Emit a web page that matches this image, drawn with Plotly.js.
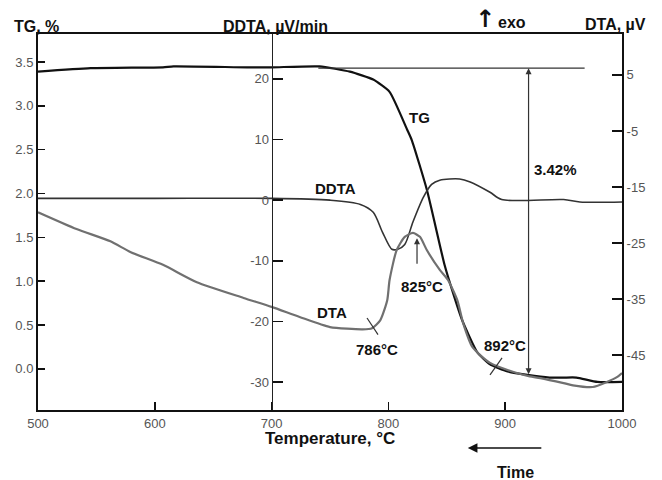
<!DOCTYPE html>
<html>
<head>
<meta charset="utf-8">
<script src="https://cdn.plot.ly/plotly-3.0.1.min.js"></script>
<style>html,body{margin:0;padding:0;background:#fff;}#chart{width:662px;height:480px;}</style>
</head>
<body>
<div id="chart"></div>
<script>
// Temperature (°C) and TG (%)
const tgTemp = [500,545,607,616,679,700,741,767,787,801,816,820,833,848,855,863,876,887,902,919,938,950,961,979,1000];
const tgVal  = [3.39,3.43,3.44,3.45,3.44,3.44,3.45,3.39,3.30,3.16,2.73,2.61,2.04,1.19,0.88,0.56,0.19,0.05,-0.03,-0.07,-0.10,-0.10,-0.10,-0.15,-0.15];

// Temperature (°C) and DDTA (µV/min)
const ddtaTemp = [500,600,700,750,776,787,795,803,808,814,821,830,837,844,861,870,887,897,950,964,1000];
const ddtaVal  = [0.3,0.3,0.3,0,-0.7,-2.0,-5.3,-8.1,-8.1,-7.3,-3.6,0.5,2.6,3.3,3.5,3.0,1.3,0.1,0.1,-0.3,-0.3];

// Temperature (°C) and DTA (µV)
const dtaTemp = [500,533,562,579,607,636,676,700,724,750,778,786,793,799,801,807,814,821,827,833,844,851,859,864,872,887,910,921,930,950,958,975,987,996,1000];
const dtaVal  = [-19.5,-22.5,-24.7,-26.6,-28.9,-32.0,-34.8,-36.4,-38.2,-40.0,-40.4,-40.2,-38.8,-35.2,-31.6,-26.3,-23.9,-23.2,-23.9,-26.3,-29.8,-31.6,-35.2,-39.3,-43.6,-46.4,-48.2,-48.8,-49.1,-50.0,-50.4,-50.7,-49.8,-48.9,-48.2];

// Tick labels
const xTicks = [500,600,700,800,900,1000];
const tgTicks = [0,0.5,1.0,1.5,2.0,2.5,3.0,3.5];
const tgTickText = ['0.0','0.5','1.0','1.5','2.0','2.5','3.0','3.5'];
const ddtaTicks = [-30,-20,-10,0,10,20];
const ddtaTickText = ['-30','-20','-10','0','10','20'];
const dtaTicks = [-45,-35,-25,-15,-5,5];
const dtaTickText = ['-45','-35','-25','-15','-5','5'];

// Annotated values
const massLoss = '3.42%';
const tgTop = 3.43, tgBottom = -0.08, lossTemp = 920;

const FONT = 'Liberation Sans, Arial, sans-serif';
const tickFont = {family: FONT, size: 13, color: '#555'};

const traces = [
  {x: dtaTemp, y: dtaVal, yaxis: 'y3', mode: 'lines', line: {color: '#707070', width: 2.2, shape: 'spline', smoothing: 0.6}, hoverinfo: 'skip'},
  {x: ddtaTemp, y: ddtaVal, yaxis: 'y2', mode: 'lines', line: {color: '#333', width: 1.6, shape: 'spline', smoothing: 0.8}, hoverinfo: 'skip'},
  {x: tgTemp, y: tgVal, yaxis: 'y', mode: 'lines', line: {color: '#111', width: 2.2, shape: 'spline', smoothing: 0.5}, hoverinfo: 'skip'}
];

const bold = (s, size) => ({text: '<b>' + s + '</b>', font: {family: FONT, size: size || 15, color: '#111'}});

function lab(text, x, y, size) {
  return Object.assign(bold(text, size), {x: x, y: y, xref: 'x', yref: 'y', showarrow: false});
}
function plab(text, x, y, xanchor, size) {
  return Object.assign(bold(text, size), {x: x, y: y, xref: 'paper', yref: 'paper', showarrow: false, xanchor: xanchor || 'center', yanchor: 'middle'});
}

const annotations = [
  lab('TG', 827, 2.87),
  lab('DDTA', 755, 2.06),
  lab(massLoss, 943, 2.27),
  lab('DTA', 752, 0.64),
  lab('786°C', 790, 0.22),
  lab('825°C', 829, 0.94),
  lab('892°C', 900, 0.27),
  // 3.42% double arrow
  {x: lossTemp, y: tgTop, ax: lossTemp, ay: tgBottom, xref: 'x', yref: 'y', axref: 'x', ayref: 'y', text: '', showarrow: true, arrowside: 'end+start', arrowhead: 2, arrowsize: 1, arrowwidth: 1.2, arrowcolor: '#333', standoff: 0, startstandoff: 0},
  // 825 arrow
  {x: 824.5, y: 1.49, ax: 0, ay: 27, xref: 'x', yref: 'y', text: '', showarrow: true, arrowhead: 2, arrowsize: 1, arrowwidth: 1.2, arrowcolor: '#333', standoff: 0},
  // Time arrow
  {x: 0.736, y: -0.101, xref: 'paper', yref: 'paper', ax: 75, ay: 0, text: '', showarrow: true, arrowhead: 2, arrowsize: 1.2, arrowwidth: 1.6, arrowcolor: '#111', standoff: 0},
  plab('Time', 0.817, -0.165, 'center', 16),
  plab('Temperature, °C', 0.5, -0.075, 'center', 17),
  plab('TG, %', -0.045, 1.019, 'left', 16),
  plab('DDTA, µV/min', 0.406, 1.019, 'center', 16),
  plab('DTA, µV', 0.933, 1.025, 'left', 16),
  {x: 0.765, y: 1.04, xref: 'paper', yref: 'paper', showarrow: false, xanchor: 'center', yanchor: 'middle',
   text: '<b>↑</b>', font: {family: 'DejaVu Sans, sans-serif', size: 24, color: '#111'}},
  plab('exo', 0.785, 1.03, 'left', 16)
];

const shapes = [
  {type: 'line', xref: 'x', yref: 'y', x0: 740, x1: 968, y0: tgTop, y1: tgTop, line: {color: '#333', width: 1.2}},
  {type: 'line', xref: 'x', yref: 'y', x0: 781.7, x1: 791.1, y0: 0.58, y1: 0.39, line: {color: '#333', width: 1.2}},
  {type: 'line', xref: 'x', yref: 'y', x0: 887, x1: 897.3, y0: -0.07, y1: 0.125, line: {color: '#333', width: 1.2}}
];

const axisBase = {showgrid: false, zeroline: false, showline: true, linecolor: '#111', ticks: 'inside', tickcolor: '#111', tickwidth: 1.5, tickfont: tickFont};

const layout = {
  width: 662, height: 480,
  margin: {l: 38, r: 40, t: 34, b: 70},
  paper_bgcolor: '#fff', plot_bgcolor: '#fff',
  showlegend: false,
  font: {family: FONT},
  xaxis: Object.assign({}, axisBase, {range: [500, 1000], tickvals: xTicks, ticklen: 8, linewidth: 2, mirror: true}),
  yaxis: Object.assign({}, axisBase, {range: [-0.47, 3.82], tickvals: tgTicks, ticktext: tgTickText, ticklen: 7, linewidth: 2}),
  yaxis2: Object.assign({}, axisBase, {overlaying: 'y', anchor: 'free', position: 0.4, side: 'left', range: [-34.6, 27.4], tickvals: ddtaTicks, ticktext: ddtaTickText, ticklen: 10, linewidth: 1.4, linecolor: '#222'}),
  yaxis3: Object.assign({}, axisBase, {overlaying: 'y', anchor: 'x', side: 'right', range: [-54.8, 12.3], tickvals: dtaTicks, ticktext: dtaTickText, ticklen: 10, linewidth: 2}),
  annotations: annotations,
  shapes: shapes
};

Plotly.newPlot('chart', traces, layout, {staticPlot: true, displayModeBar: false});
</script>
</body>
</html>
